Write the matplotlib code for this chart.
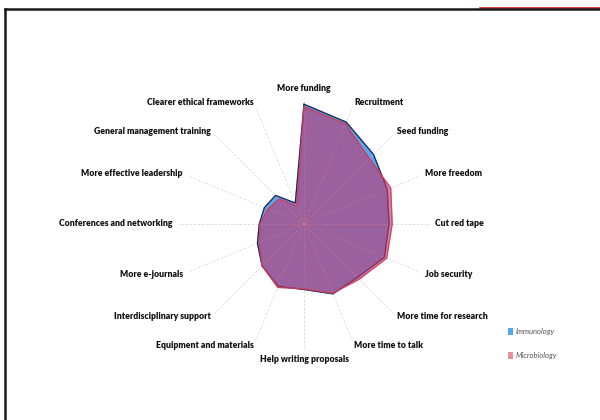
import numpy as np
import matplotlib
matplotlib.use("Agg")
import matplotlib.pyplot as plt
from matplotlib.lines import Line2D
from matplotlib.patches import Patch

categories = ["More funding", "Recruitment", "Seed funding", "More freedom",
              "Cut red tape", "Job security", "More time for research",
              "More time to talk", "Help writing proposals",
              "Equipment and materials", "Interdisciplinary support",
              "More e-journals", "Conferences and networking",
              "More effective leadership", "General management training",
              "Clearer ethical frameworks"]
immunology = [0.95, 0.875, 0.78, 0.715, 0.675, 0.69, 0.60, 0.60, 0.52,
              0.535, 0.47, 0.40, 0.355, 0.34, 0.32, 0.18]
microbiology = [0.93, 0.86, 0.735, 0.745, 0.70, 0.71, 0.62, 0.595, 0.515,
                0.545, 0.47, 0.385, 0.35, 0.31, 0.28, 0.155]
series_names = ["Immunology", "Microbiology"]

plt.rcParams['font.family'] = ['Lato', 'DejaVu Sans']

fig = plt.figure(figsize=(6, 4.2), dpi=100)
fig.patch.set_facecolor('white')
ax = fig.add_axes([0.2967, 0.1667, 0.42, 0.6], projection='polar')
ax.set_theta_offset(np.pi / 2)
ax.set_theta_direction(-1)

n = len(categories)
theta = np.linspace(0, 2 * np.pi, n, endpoint=False)
th_c = np.append(theta, theta[0])

imm = np.append(immunology, immunology[0])
mic = np.append(microbiology, microbiology[0])

blue = '#58a6ee'
pink = '#c8336a'
ax.fill(th_c, imm, color=blue, alpha=1.0, zorder=2)
ax.plot(th_c, imm, color='#1e2a55', lw=0.9, zorder=3)
ax.fill(th_c, mic, color=pink, alpha=0.6, zorder=4)
ax.plot(th_c, mic, color='#d04050', lw=0.8, alpha=0.8, zorder=4)

ax.set_ylim(0, 1)
ax.set_xticks(theta)
ax.set_xticklabels([])
ax.set_yticks([])
ax.set_axisbelow(False)
ax.xaxis.grid(True, color='#cccccc', alpha=0.75, linestyle=(0, (3, 2)),
              linewidth=0.6, zorder=5)
ax.yaxis.grid(False)
ax.spines['polar'].set_visible(False)
ax.set_facecolor('none')

for t, lab in zip(theta, categories):
    s = np.sin(t)
    c = np.cos(t)
    if abs(s) < 0.01:
        ha = 'center'
        va = 'bottom' if c > 0 else 'top'
        r = 1.04
    else:
        ha = 'left' if s > 0 else 'right'
        va = 'center'
        r = 1.04
    ax.text(t, r, lab, ha=ha, va=va, fontsize=6.2, fontweight='heavy',
            color='#111111', clip_on=False)

handles = [Patch(facecolor=blue, edgecolor='none'),
           Patch(facecolor='#e8909c', edgecolor='none')]
leg = fig.legend(handles, series_names, loc='upper left',
                 bbox_to_anchor=(0.835, 0.235), frameon=False,
                 handlelength=0.7, handleheight=0.9, handletextpad=0.3,
                 labelspacing=2.2, prop={'size': 5.5, 'style': 'italic'})
for txt in leg.get_texts():
    txt.set_color('#555555')

# frame decorations
fig.add_artist(Line2D([0.80, 1.0], [0.9815, 0.9815], transform=fig.transFigure,
                      color='#d02020', lw=1.2, zorder=1))
fig.add_artist(Line2D([0.0085, 0.0085], [0.0, 0.9786], transform=fig.transFigure,
                      color='#1a1a1a', lw=1.8, zorder=2))
fig.add_artist(Line2D([0.0085, 1.0], [0.9786, 0.9786], transform=fig.transFigure,
                      color='#1a1a1a', lw=1.8, zorder=2))

fig.savefig('out.png', dpi=100, facecolor='white')
